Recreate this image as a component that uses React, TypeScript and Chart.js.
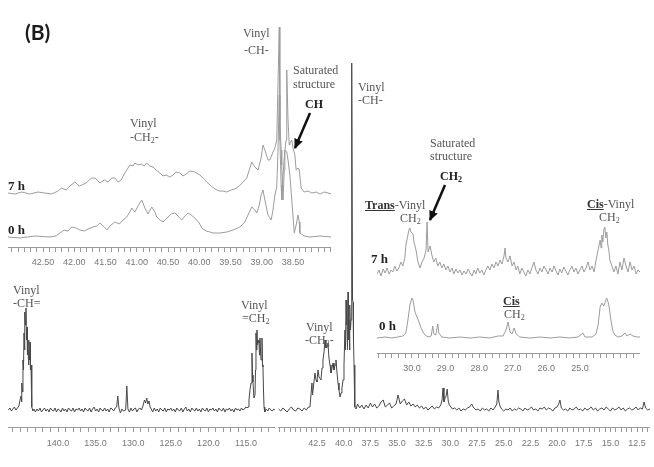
import React, { useEffect, useRef } from "react";
import { Chart, registerables } from "chart.js";

Chart.register(...registerables);

type Pt = [number, number]; // [chemical shift (ppm), relative intensity]

// ---------------- DATA ----------------
// Main spectrum, olefinic segment (146.6 - 111.2 ppm)
const MAIN_LEFT: Pt[] = [
  [146.6, 0], [146.4, 2], [146.2, -1], [146.0, 1], [145.8, 3], [145.6, 0], [145.4, 2], [145.2, 4],
  [145.05, 10], [144.92, 14], [144.85, 8], [144.79, 27], [144.72, 18], [144.66, 50], [144.59, 40], [144.52, 77],
  [144.46, 60], [144.39, 98], [144.32, 85], [144.26, 102], [144.19, 70], [144.12, 83], [144.06, 55], [143.99, 60],
  [143.92, 45], [143.86, 70], [143.79, 50], [143.72, 68], [143.66, 40], [143.59, 45], [143.52, 15], [143.46, 3], [143.33, -1],
  [143.2, 1], [143.0, -2], [142.8, 1], [142.6, -1], [142.4, 2], [142.2, -2], [142.0, 0], [141.8, 2], [141.6, -1],
  [141.4, 1], [141.2, -2], [141.0, 2], [140.8, 0], [140.6, -1], [140.4, 2], [140.2, -2], [140.0, 1], [139.8, 0],
  [139.6, -2], [139.4, 2], [139.2, -1], [139.0, 1], [138.8, -2], [138.6, 2], [138.4, 0], [138.2, -1], [138.0, 2],
  [137.8, -2], [137.6, 1], [137.4, 0], [137.2, 2], [137.0, -1], [136.8, 1], [136.6, -2], [136.4, 2], [136.2, 0],
  [136.0, -1], [135.8, 2], [135.6, -2], [135.4, 1], [135.2, 3], [135.0, -1], [134.8, 1], [134.6, -2], [134.4, 2],
  [134.2, 0], [134.0, -1], [133.8, 2], [133.6, -1], [133.4, 1], [133.2, -2], [133.0, 2], [132.8, 1], [132.6, -1], [132.4, 2],
  [132.2, 3], [132.05, 14], [131.9, 2], [131.7, -3], [131.5, 1], [131.3, -1], [131.0, 0], [130.85, 24], [130.7, 1],
  [130.5, -2], [130.3, 2], [130.1, -1], [129.9, 1], [129.7, 2], [129.5, -2], [129.3, 1], [129.1, 2], [128.9, 0],
  [128.7, 4], [128.5, 10], [128.35, 7], [128.2, 12], [128.05, 6], [127.9, 9], [127.75, 3], [127.6, 1],
  [127.4, -2], [127.2, 2], [127.0, -1], [126.8, 1], [126.6, -2], [126.4, 2], [126.2, 0], [126.0, -1], [125.8, 2],
  [125.6, -2], [125.4, 1], [125.2, 0], [125.0, 2], [124.8, -1], [124.6, 1], [124.4, -2], [124.2, 2], [124.0, 0],
  [123.8, -1], [123.6, 2], [123.4, -2], [123.2, 1], [123.0, 3], [122.8, -1], [122.6, 1], [122.4, -2], [122.2, 2],
  [122.0, 0], [121.8, -1], [121.6, 2], [121.4, -1], [121.2, 1], [121.0, -2], [120.8, 2], [120.6, 0], [120.4, -1],
  [120.2, 2], [120.0, -2], [119.8, 1], [119.6, 0], [119.4, 2], [119.2, -1], [119.0, 1], [118.8, -2], [118.6, 2],
  [118.4, 0], [118.2, -1], [118.0, 2], [117.8, -2], [117.6, 1], [117.4, 0], [117.2, 2], [117.0, -1], [116.8, 1],
  [116.6, -2], [116.4, 2], [116.2, 0], [116.0, 1], [115.8, -1], [115.6, 2], [115.4, 0], [115.2, 1], [115.0, 3], [114.85, 2],
  [114.73, 3], [114.6, 10], [114.47, 20], [114.33, 27], [114.2, 57], [114.13, 35], [114.07, 28], [113.94, 12],
  [113.8, 15], [113.73, 40], [113.67, 77], [113.6, 60], [113.54, 80], [113.47, 65], [113.4, 70], [113.27, 67],
  [113.2, 55], [113.14, 72], [113.07, 60], [113.0, 50], [112.87, 72], [112.8, 45], [112.74, 43], [112.67, 20],
  [112.6, 3], [112.5, -2], [112.3, 1], [112.1, -1], [111.9, 2], [111.7, 0], [111.5, -1], [111.3, 1], [111.15, 0],
];

// Main spectrum, aliphatic segment (46.2 - 11.3 ppm)
const MAIN_RIGHT: Pt[] = [
  [46.1, 1], [45.9, -1], [45.7, 2], [45.5, 0], [45.3, -2], [45.1, 1], [44.9, 3], [44.7, 0], [44.5, -1], [44.3, 2],
  [44.1, 1], [43.9, -1], [43.7, 2], [43.5, 0], [43.3, 3],
  [43.16, 3], [42.97, 27], [42.92, 15], [42.87, 20], [42.69, 37], [42.59, 30], [42.5, 28], [42.41, 40], [42.31, 33],
  [42.13, 30], [42.03, 42], [41.94, 50], [41.84, 58], [41.75, 70], [41.66, 62], [41.56, 63], [41.47, 67], [41.38, 52],
  [41.28, 45], [41.19, 37], [41.09, 42], [41.0, 47], [40.91, 40], [40.81, 45], [40.72, 50], [40.63, 38], [40.53, 27],
  [40.44, 20], [40.34, 13], [40.25, 17], [40.16, 22], [40.06, 30], [39.97, 45], [39.88, 80], [39.83, 60], [39.78, 110],
  [39.74, 85], [39.69, 95], [39.64, 60], [39.59, 118], [39.55, 70], [39.5, 90], [39.45, 60], [39.41, 105], [39.36, 80],
  [39.31, 90], [39.27, 100], [39.22, 347], [39.17, 110], [39.12, 108], [39.08, 70], [39.03, 45], [38.98, 20], [38.94, 3], [38.84, 1],
  [38.7, 6], [38.5, 2], [38.3, 5], [38.1, 1], [37.9, 5], [37.7, 2], [37.5, 7], [37.3, 3], [37.1, 6], [36.9, 2],
  [36.7, 4], [36.5, 8], [36.3, 10], [36.1, 3], [35.9, 5], [35.7, 7], [35.5, 2], [35.3, 4], [35.1, 6], [34.9, 15],
  [34.7, 6], [34.5, 9], [34.3, 11], [34.1, 5], [33.9, 8], [33.7, 4], [33.5, 6], [33.3, 3], [33.1, 5], [32.9, 2],
  [32.7, 4], [32.5, 1], [32.3, 3], [32.1, 0], [31.9, 2], [31.7, 4], [31.5, 1], [31.3, 3], [31.1, 2], [30.9, 5],
  [30.78, 10], [30.69, 22], [30.6, 8], [30.5, 12], [30.4, 14], [30.3, 21], [30.2, 9], [30.1, 5], [29.95, 3], [29.8, 1],
  [29.6, 2], [29.4, 0], [29.2, 2], [29.0, -1], [28.8, 1], [28.6, 0], [28.4, 2], [28.2, 3], [28.0, 6], [27.8, 2],
  [27.6, 0], [27.4, 1], [27.2, -1], [27.0, 2], [26.8, 0], [26.6, 1], [26.4, -1], [26.2, 2], [26.0, 0], [25.8, 3],
  [25.65, 6], [25.54, 20], [25.45, 8], [25.35, 4], [25.2, 1], [25.0, -1], [24.8, 1], [24.6, 0], [24.4, 2], [24.2, -1],
  [24.0, 1], [23.8, 0], [23.6, 2], [23.4, 1], [23.2, -1], [23.0, 2], [22.8, 0], [22.6, 1], [22.4, 3], [22.2, 0],
  [22.0, 1], [21.8, -1], [21.6, 2], [21.4, 1], [21.2, 3], [21.0, 0], [20.8, 2], [20.6, 1], [20.4, -1], [20.2, 2],
  [20.0, 3], [19.85, 6], [19.73, 10], [19.6, 2], [19.4, 0], [19.2, 1], [19.0, -1], [18.8, 2], [18.6, 0], [18.4, 1],
  [18.2, 3], [18.0, 0], [17.8, 1], [17.6, -1], [17.4, 2], [17.2, 0], [17.0, 1], [16.8, 3], [16.6, 0], [16.4, 2],
  [16.2, -1], [16.0, 1], [15.8, 2], [15.6, 0], [15.4, 3], [15.2, 1], [15.0, -1], [14.8, 2], [14.6, 0], [14.4, 1],
  [14.2, 3], [14.0, 0], [13.8, 2], [13.6, -1], [13.4, 1], [13.2, 2], [13.0, 0], [12.8, 1], [12.6, 3], [12.4, 0],
  [12.2, 2], [12.0, 1], [11.85, 8], [11.7, 2], [11.5, 0], [11.3, 1],
];

// Inset (upper left): 43.1 - 37.9 ppm, 7 h and 0 h
const INSET1_7H: Pt[] = [
  [43.06, 0], [42.95, -1], [42.84, 1], [42.71, -1], [42.58, 1], [42.47, 0], [42.36, -1], [42.26, 2], [42.2, 5],
  [42.13, 3], [42.07, 7], [41.99, 11], [41.92, 7], [41.88, 8], [41.81, 10], [41.76, 13], [41.72, 15], [41.67, 15],
  [41.62, 12], [41.59, 10], [41.52, 13], [41.46, 11], [41.4, 15], [41.35, 15], [41.3, 11], [41.25, 13], [41.19, 20],
  [41.14, 25], [41.11, 28], [41.06, 27], [41.03, 30], [40.98, 28], [40.93, 29], [40.88, 27], [40.84, 30], [40.79, 27],
  [40.74, 26], [40.69, 23], [40.63, 20], [40.58, 17], [40.53, 18], [40.47, 16], [40.42, 18], [40.37, 21], [40.31, 20],
  [40.26, 17], [40.21, 19], [40.15, 22], [40.07, 21], [40.02, 19], [39.99, 18], [39.92, 14], [39.88, 11], [39.81, 7],
  [39.75, 4], [39.68, 2], [39.62, 2], [39.56, 1], [39.49, 3], [39.43, 4], [39.36, 7], [39.3, 11], [39.24, 15],
  [39.19, 25], [39.16, 31], [39.11, 26], [39.06, 23], [39.01, 35], [38.98, 48], [38.95, 43], [38.9, 33], [38.87, 33],
  [38.82, 41], [38.79, 45], [38.76, 53], [38.72, 166], [38.71, 73], [38.69, 43], [38.68, 28], [38.66, -7], [38.64, 23],
  [38.63, 43], [38.61, 53], [38.6, 123], [38.58, 73], [38.56, 48], [38.55, 50], [38.52, 53], [38.5, 45], [38.47, 38],
  [38.45, 23], [38.42, 25], [38.4, 23], [38.37, 5], [38.32, 1], [38.26, 2], [38.2, 0], [38.13, 1], [38.07, -1],
  [38.0, 1], [37.94, 0], [37.89, -1],
];
const INSET1_0H: Pt[] = [
  [43.06, 0], [42.87, -1], [42.63, 1], [42.39, 0], [42.29, 1], [42.23, 4], [42.16, 7], [42.1, 6], [42.04, 10],
  [41.97, 9], [41.91, 7], [41.84, 6], [41.78, 8], [41.7, 10], [41.64, 11], [41.59, 14], [41.52, 10], [41.48, 7],
  [41.43, 11], [41.35, 15], [41.28, 13], [41.22, 17], [41.16, 20], [41.11, 25], [41.08, 29], [41.03, 25], [40.98, 31],
  [40.92, 37], [40.87, 29], [40.82, 23], [40.76, 30], [40.71, 25], [40.68, 20], [40.63, 17], [40.58, 15], [40.53, 18],
  [40.5, 20], [40.45, 23], [40.39, 24], [40.34, 21], [40.28, 17], [40.23, 21], [40.18, 24], [40.13, 22], [40.07, 19],
  [40.0, 14], [39.96, 9], [39.89, 6], [39.83, 5], [39.78, 4], [39.67, 4], [39.56, 5], [39.46, 7], [39.35, 10],
  [39.27, 15], [39.22, 22], [39.16, 30], [39.11, 27], [39.08, 24], [39.04, 32], [39.01, 42], [38.98, 47], [38.95, 37],
  [38.9, 22], [38.85, 17], [38.82, 27], [38.79, 42], [38.76, 50], [38.74, 87], [38.72, 142], [38.71, 97], [38.69, 52],
  [38.68, 37], [38.66, 62], [38.63, 87], [38.6, 85], [38.58, 77], [38.55, 62], [38.52, 37], [38.48, 4], [38.45, 12],
  [38.42, 22], [38.4, 15], [38.39, 4], [38.32, 1], [38.23, 0], [38.07, 1], [37.89, 0],
];

// Inset (right): 31.0 - 23.2 ppm, 7 h and 0 h
const INSET2_7H: Pt[] = [
  [31.04, -2], [30.98, 2], [30.92, -4], [30.86, 3], [30.8, -1], [30.74, 4], [30.68, -2], [30.62, 2], [30.57, 0],
  [30.51, 6], [30.45, 1], [30.39, 4], [30.33, 10], [30.27, 6], [30.21, 14], [30.18, 27], [30.12, 37], [30.09, 42],
  [30.06, 44], [30.03, 40], [29.97, 38], [29.94, 30], [29.88, 22], [29.82, 10], [29.76, 4], [29.7, 10], [29.64, 14],
  [29.58, 22], [29.55, 50], [29.52, 20], [29.46, 26], [29.4, 16], [29.35, 10], [29.29, 14], [29.23, 6], [29.17, 10],
  [29.11, 4], [29.05, 8], [28.99, 2], [28.93, 6], [28.87, 0], [28.81, 4], [28.75, -2], [28.69, 3], [28.63, -1],
  [28.57, 2], [28.51, -3], [28.45, 1], [28.39, -2], [28.33, 3], [28.27, -1], [28.21, -4], [28.15, 2], [28.1, -2],
  [28.04, 4], [27.98, -1], [27.92, 2], [27.86, -3], [27.8, 2], [27.74, 6], [27.68, 2], [27.62, 8], [27.56, 4],
  [27.5, 10], [27.44, 6], [27.38, 12], [27.32, 8], [27.26, 16], [27.23, 24], [27.2, 14], [27.14, 10], [27.08, 16],
  [27.02, 6], [26.96, 10], [26.9, 2], [26.85, 6], [26.79, -2], [26.73, 4], [26.67, 0], [26.61, -4], [26.55, 2],
  [26.49, -2], [26.43, 4], [26.37, 10], [26.31, 2], [26.25, -2], [26.19, 4], [26.13, 0], [26.07, 6], [26.01, 2],
  [25.95, -2], [25.89, 4], [25.83, 0], [25.77, 6], [25.71, 1], [25.65, -3], [25.6, 3], [25.54, -1], [25.48, 5],
  [25.42, 1], [25.36, -3], [25.3, 2], [25.24, 6], [25.18, 0], [25.12, 4], [25.06, -2], [25.0, 2], [24.94, 6],
  [24.88, 0], [24.82, 4], [24.76, 10], [24.7, 2], [24.64, 6], [24.58, 0], [24.52, 12], [24.46, 22], [24.4, 32],
  [24.37, 24], [24.35, 37], [24.32, 30], [24.29, 42], [24.26, 45], [24.23, 34], [24.2, 40], [24.17, 27], [24.14, 22],
  [24.11, 12], [24.05, 6], [23.99, 0], [23.93, 6], [23.87, -2], [23.81, 10], [23.75, 2], [23.69, 14], [23.63, 6],
  [23.57, 0], [23.51, 10], [23.45, 2], [23.39, 6], [23.33, -2], [23.27, 2], [23.21, 0],
];
const INSET2_0H: Pt[] = [
  [31.04, 0], [30.8, 1], [30.6, 0], [30.42, 1], [30.27, 2], [30.18, 5], [30.12, 18], [30.06, 33], [30.0, 40],
  [29.97, 38], [29.91, 26], [29.85, 21], [29.79, 16], [29.73, 10], [29.67, 6], [29.61, 3], [29.52, 1], [29.43, 2],
  [29.38, 12], [29.35, 4], [29.29, 3], [29.23, 14], [29.2, 5], [29.11, 1], [28.87, 0], [28.57, 1], [28.27, 0],
  [27.98, 1], [27.68, 0], [27.44, 2], [27.29, 2], [27.2, 8], [27.14, 16], [27.08, 6], [27.02, 4], [26.96, 10],
  [26.9, 4], [26.79, 1], [26.49, 0], [26.19, 1], [25.89, 0], [25.6, 1], [25.3, 0], [25.06, 1], [24.91, 5],
  [24.85, 1], [24.64, 1], [24.52, 4], [24.46, 13], [24.4, 31], [24.35, 35], [24.29, 32], [24.23, 38], [24.2, 40],
  [24.14, 33], [24.08, 18], [24.02, 7], [23.96, 3], [23.87, 1], [23.75, 2], [23.66, 5], [23.6, 2], [23.51, 4],
  [23.42, 2], [23.3, 1], [23.21, 1],
];

// Tick labels
const MAIN_LEFT_LABELS = [140, 135, 130, 125, 120, 115];
const MAIN_RIGHT_LABELS = [42.5, 40, 37.5, 35, 32.5, 30, 27.5, 25, 22.5, 20, 17.5, 15, 12.5];
const INSET1_LABELS = [42.5, 42.0, 41.5, 41.0, 40.5, 40.0, 39.5, 39.0, 38.5];
const INSET2_LABELS = [30, 29, 28, 27, 26, 25];

// ---------------- RENDERING ----------------
const MAIN_INK = "#474747";
const INSET_INK = "#9c9c9c";
const AXIS_INK = "#9a9a9a";
const LABEL_INK = "#777777";

function makeTicks(from: number, to: number, step: number): number[] {
  const out: number[] = [];
  const n = Math.round((from - to) / step);
  for (let i = 0; i <= n; i++) out.push(Math.round((from - i * step) * 1000) / 1000);
  return out;
}

interface Trace { data: Pt[]; color: string; yMin: number; yMax: number; }
interface PanelProps {
  left: number; top: number; width: number; plotHeight: number; axisHeight: number;
  xHigh: number; xLow: number; minorFrom: number; minorTo: number; minorStep: number;
  majors: number[]; decimals: number; traces: Trace[]; tickPad: number; titlePad: number;
}

function SpectrumPanel(p: PanelProps) {
  const ref = useRef<HTMLCanvasElement>(null);
  useEffect(() => {
    const canvas = ref.current;
    if (!canvas) return;
    const tickVals = makeTicks(p.minorFrom, p.minorTo, p.minorStep);
    const scales: any = {
      x: {
        type: "linear",
        position: "bottom",
        reverse: true,
        min: p.xLow,
        max: p.xHigh,
        afterBuildTicks: (axis: any) => {
          axis.ticks = tickVals.map((v) => ({ value: v }));
        },
        afterFit: (axis: any) => {
          axis.height = p.axisHeight;
          axis.paddingLeft = 0;
          axis.paddingRight = 0;
        },
        ticks: {
          autoSkip: false,
          maxRotation: 0,
          minRotation: 0,
          padding: p.tickPad,
          color: LABEL_INK,
          font: { family: "'Liberation Sans', Arial, sans-serif", size: 9 },
          callback: (value: any) => {
            const v = Number(value);
            return p.majors.some((m) => Math.abs(m - v) < 1e-6) ? v.toFixed(p.decimals) : "";
          },
        },
        grid: { display: true, drawOnChartArea: false, drawTicks: true, tickLength: 5, color: AXIS_INK, lineWidth: 1 },
        border: { display: true, color: AXIS_INK, width: 1 },
        title: {
          display: true,
          text: "ppm (t1)",
          align: "end",
          color: LABEL_INK,
          font: { family: "'Liberation Sans', Arial, sans-serif", size: 9 },
          padding: { top: 0, bottom: p.titlePad },
        },
      },
    };
    p.traces.forEach((t, i) => {
      scales["y" + i] = { type: "linear", display: false, min: t.yMin, max: t.yMax };
    });
    const chart = new Chart(canvas, {
      type: "line",
      data: {
        datasets: p.traces.map((t, i) => ({
          data: t.data.map(([x, y]) => ({ x, y })),
          yAxisID: "y" + i,
          borderColor: t.color,
          borderWidth: 1,
          pointRadius: 0,
          tension: 0,
          fill: false,
        })),
      },
      options: {
        animation: false,
        responsive: false,
        maintainAspectRatio: false,
        devicePixelRatio: 1,
        events: [],
        layout: { padding: 0 },
        plugins: { legend: { display: false }, tooltip: { enabled: false } },
        scales,
      } as any,
    });
    return () => chart.destroy();
  }, []);
  const h = p.plotHeight + p.axisHeight;
  return (
    <canvas
      ref={ref}
      width={p.width}
      height={h}
      style={{ position: "absolute", left: p.left, top: p.top, width: p.width, height: h, display: "block" }}
    />
  );
}

const serif = "'Liberation Serif', 'Times New Roman', serif";

function T(props: { x: number; base: number; children: any; bold?: boolean; size?: number; color?: string }) {
  const size = props.size ?? 12;
  const top = props.base - Math.round(size * 0.92);
  return (
    <div
      style={{
        position: "absolute",
        left: props.x,
        top,
        fontFamily: serif,
        fontSize: size,
        lineHeight: `${Math.round(size * 1.15)}px`,
        fontWeight: props.bold ? "bold" : "normal",
        color: props.color ?? (props.bold ? "#222" : "#555"),
        whiteSpace: "nowrap",
      }}
    >
      {props.children}
    </div>
  );
}

const Sub2 = () => <span style={{ fontSize: 8, verticalAlign: "-2px" }}>2</span>;

export default function App() {
  return (
    <div style={{ position: "fixed", left: 0, top: 0, width: 654, height: 467, background: "#fff", overflow: "hidden" }}>
      <SpectrumPanel
        left={8} top={280} width={267} plotHeight={147} axisHeight={40}
        xHigh={146.65} xLow={111.14} minorFrom={146} minorTo={112} minorStep={1}
        majors={MAIN_LEFT_LABELS} decimals={1} tickPad={6} titlePad={5}
        traces={[{ data: MAIN_LEFT, color: MAIN_INK, yMin: -17, yMax: 130 }]}
      />
      <SpectrumPanel
        left={278} top={55} width={372} plotHeight={372} axisHeight={40}
        xHigh={46.155} xLow={11.29} minorFrom={46} minorTo={11.5} minorStep={0.5}
        majors={MAIN_RIGHT_LABELS} decimals={1} tickPad={6} titlePad={5}
        traces={[{ data: MAIN_RIGHT, color: MAIN_INK, yMin: -17, yMax: 355 }]}
      />
      <SpectrumPanel
        left={8} top={15} width={323} plotHeight={232} axisHeight={36}
        xHigh={43.06} xLow={37.892} minorFrom={43} minorTo={37.9} minorStep={0.1}
        majors={INSET1_LABELS} decimals={2} tickPad={5} titlePad={4}
        traces={[
          { data: INSET1_7H, color: INSET_INK, yMin: -54, yMax: 178 },
          { data: INSET1_0H, color: INSET_INK, yMin: -10, yMax: 222 },
        ]}
      />
      <SpectrumPanel
        left={377} top={200} width={263} plotHeight={153} axisHeight={34}
        xHigh={31.04} xLow={23.213} minorFrom={31} minorTo={23.4} minorStep={0.2}
        majors={INSET2_LABELS} decimals={1} tickPad={5} titlePad={2}
        traces={[
          { data: INSET2_7H, color: INSET_INK, yMin: -81, yMax: 72 },
          { data: INSET2_0H, color: INSET_INK, yMin: -15, yMax: 138 },
        ]}
      />

      {/* Panel tag */}
      <div style={{ position: "absolute", left: 25, top: 19, fontFamily: "Lato, 'Open Sans', sans-serif", fontWeight: "bold", fontSize: 21, color: "#1c1c1c", lineHeight: "26px" }}>(B)</div>

      {/* Upper-left inset annotations */}
      <T x={243} base={37}>Vinyl</T>
      <T x={244} base={54}>-CH-</T>
      <T x={293} base={74}>Saturated</T>
      <T x={293} base={88}>structure</T>
      <T x={305} base={108} bold>CH</T>
      <T x={130} base={127}>Vinyl</T>
      <T x={130} base={141}>-CH<Sub2 />-</T>
      <T x={8} base={190} bold size={13}>7 h</T>
      <T x={8} base={234} bold size={13}>0 h</T>

      {/* Main spectrum annotations */}
      <T x={358} base={91}>Vinyl</T>
      <T x={358} base={104}>-CH-</T>
      <T x={13} base={294}>Vinyl</T>
      <T x={13} base={307}>-CH=</T>
      <T x={241} base={309}>Vinyl</T>
      <T x={242} base={322}>=CH<Sub2 /></T>
      <T x={306} base={331}>Vinyl</T>
      <T x={305} base={344}>-CH<Sub2 />-</T>

      {/* Right inset annotations */}
      <T x={430} base={147}>Saturated</T>
      <T x={430} base={160}>structure</T>
      <T x={440} base={180} bold>CH<Sub2 /></T>
      <T x={365} base={209}><span style={{ fontWeight: "bold", textDecoration: "underline", color: "#333" }}>Trans</span>-Vinyl</T>
      <T x={400} base={222}>CH<Sub2 /></T>
      <T x={587} base={208}><span style={{ fontWeight: "bold", textDecoration: "underline", color: "#333" }}>Cis</span>-Vinyl</T>
      <T x={599} base={221}>CH<Sub2 /></T>
      <T x={371} base={263} bold size={13}>7 h</T>
      <T x={379} base={330} bold size={13}>0 h</T>
      <T x={503} base={305}><span style={{ fontWeight: "bold", textDecoration: "underline", color: "#333" }}>Cis</span></T>
      <T x={504} base={318}>CH<Sub2 /></T>

      {/* Arrows */}
      <svg width={654} height={467} style={{ position: "absolute", left: 0, top: 0 }}>
        <defs>
          <marker id="ah" markerUnits="userSpaceOnUse" markerWidth="10" markerHeight="9" refX="9" refY="4.5" orient="auto">
            <path d="M0,0 L10,4.5 L0,9 z" fill="#111" />
          </marker>
        </defs>
        <line x1={310} y1={113} x2={295} y2={148} stroke="#111" strokeWidth={2.5} markerEnd="url(#ah)" />
        <line x1={445} y1={185} x2={430} y2={220} stroke="#111" strokeWidth={2.5} markerEnd="url(#ah)" />
      </svg>
    </div>
  );
}
